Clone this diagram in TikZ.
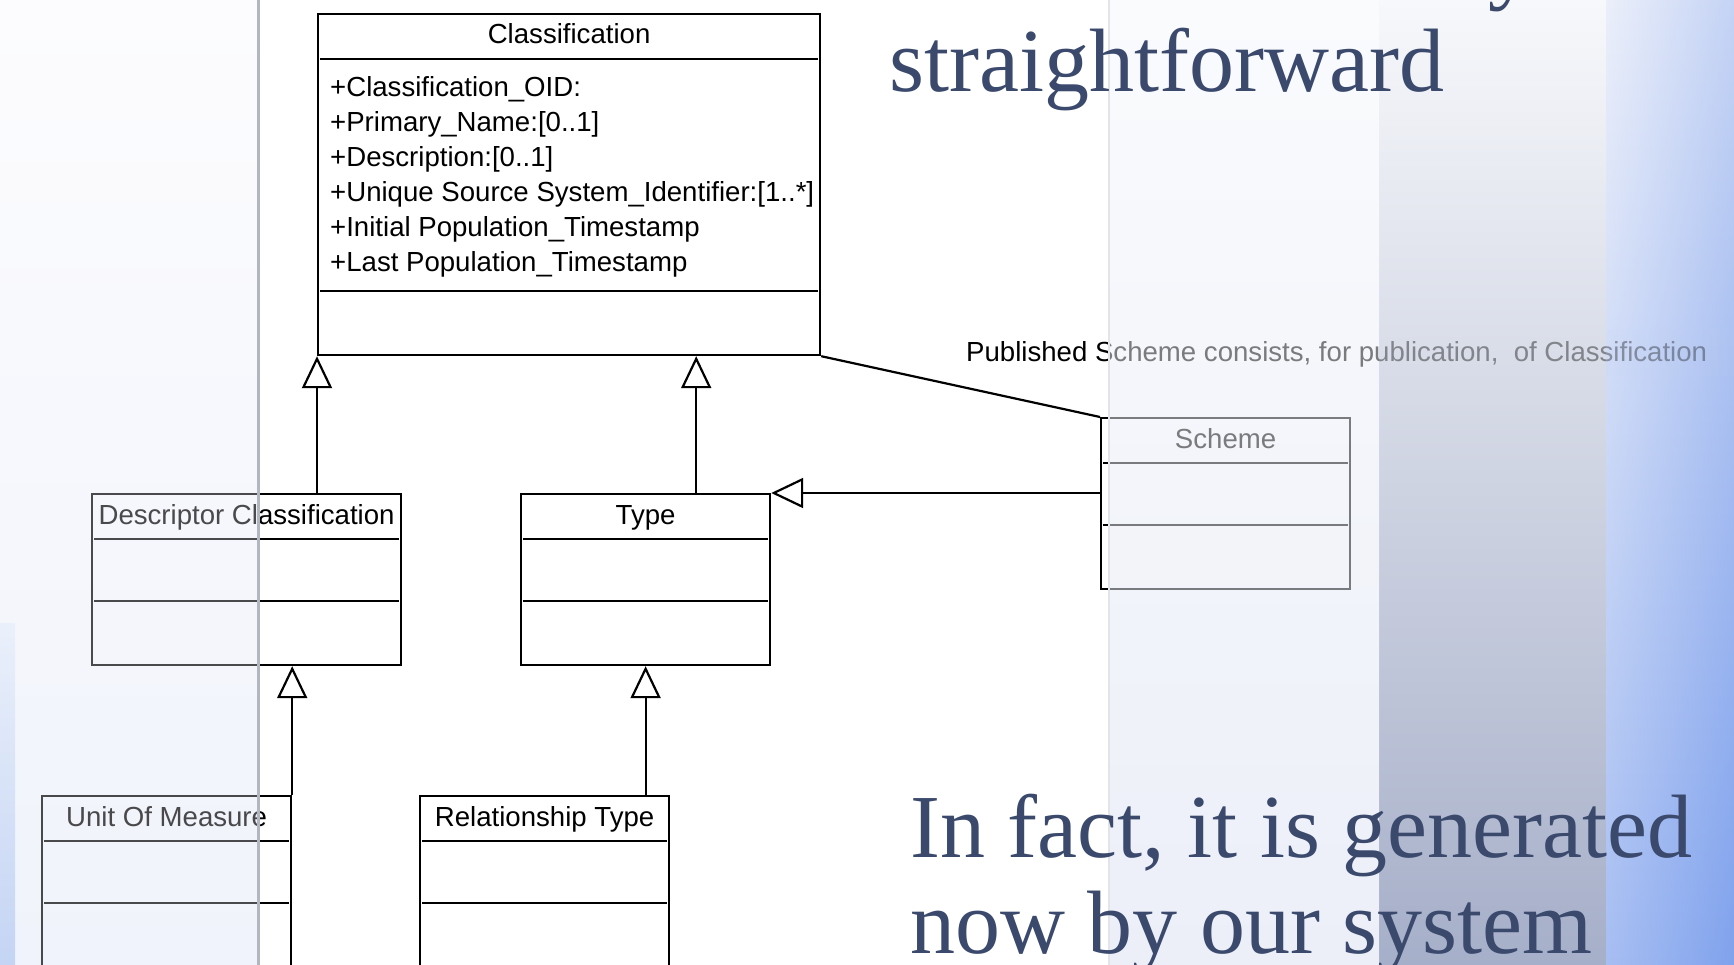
\documentclass[tikz,border=0pt]{standalone}
\usepackage{fontspec}
\setmainfont{Liberation Serif}
\setsansfont{Liberation Sans}
\usetikzlibrary{arrows.meta, calc}

\definecolor{headblue}{HTML}{3A496C}
\definecolor{paneltopA}{HTML}{FCFCFE}
\definecolor{panelbotA}{HTML}{F0F3FB}
\definecolor{edgetopA}{HTML}{EAF0FB}
\definecolor{edgeA}{HTML}{C4D4F4}
\definecolor{paneltopC}{HTML}{FAFBFD}
\definecolor{panelbotC}{HTML}{ECEFF8}
\definecolor{paneltopD}{HTML}{F7F8FB}
\definecolor{panelmidD}{HTML}{D0D3DA}
\definecolor{panelbotD}{HTML}{A6AFC9}
\definecolor{paneltopE}{HTML}{E6EBF9}
\definecolor{panelmidE}{HTML}{BBCDF5}
\definecolor{panelbotE}{HTML}{8EACEF}
\definecolor{panelglowE}{HTML}{4F7FE6}
\definecolor{seamdark}{HTML}{B2B6BE}
\definecolor{seamlight}{HTML}{E2E4E9}

\tikzset{
    umlbox/.style={draw, line width=2.2pt, minimum width=249pt, minimum height=171pt,
        inner sep=0pt, anchor=north west},
    umlname/.style={font=\sffamily\fontsize{27.6}{32}\selectfont, inner sep=0pt,
        text height=20pt, text depth=6pt},
    attr/.style={font=\sffamily\fontsize{27.6}{32}\selectfont, inner sep=0pt, anchor=base west},
    compart/.style={line width=2.2pt},
    gen/.style={line width=2.2pt, -{Triangle[open, length=32pt, width=30pt]}},
    headline/.style={font=\fontsize{90}{96}\selectfont, text=headblue, inner sep=0pt,
        anchor=base west},
    panelA/.style={top color=paneltopA, bottom color=panelbotA},
    panelC/.style={top color=paneltopC, bottom color=panelbotC},
    panelD/.style={top color=paneltopD, middle color=panelmidD, bottom color=panelbotD},
    panelE/.style={top color=paneltopE, middle color=panelmidE, bottom color=panelbotE},
    glowE/.style={left color=white, right color=panelglowE, opacity=.22}
}

\begin{document}
\begin{tikzpicture}[x=1pt, y=-1pt]
    \useasboundingbox (0,0) rectangle (1734,965);
    \fill[white] (0,0) rectangle (1734,965);

    % 1. Backdrop panels
    \shade[panelA] (0,0) rectangle (258,965);
    \shade[panelC] (1109,0) rectangle (1379,965);
    \shade[panelD] (1379,0) rectangle (1606,965);
    \shade[panelE] (1606,0) rectangle (1734,965);
    \shade[glowE] (1606,0) rectangle (1734,965);

    % 2. Class boxes, their names and compartments
    \node[umlbox, minimum width=502pt, minimum height=341pt] (class) at (317,13) {};
    \node[umlbox, minimum width=309pt] (desc) at (91,493) {};
    \node[umlbox] (type) at (520,493) {};
    \node[umlbox] (scheme) at (1100,417) {};
    \node[umlbox] (uom) at (41,795) {};
    \node[umlbox] (rel) at (419,795) {};

    \foreach \cls/\title in {class/Classification, desc/Descriptor Classification,
            type/Type, scheme/Scheme, uom/Unit Of Measure, rel/Relationship Type}
        \node[umlname] (\cls-name) at ($(\cls.north)+(0,24)$) {\title};

    \draw[compart] ($(class.north west)+(3,46)$) -- ($(class.north east)+(-3,46)$);
    \draw[compart] ($(class.north west)+(3,278)$) -- ($(class.north east)+(-3,278)$);
    \foreach \cls in {desc, type, scheme, uom, rel} {
        \draw[compart] ($(\cls.north west)+(3,46)$) -- ($(\cls.north east)+(-3,46)$);
        \draw[compart] ($(\cls.north west)+(3,108)$) -- ($(\cls.north east)+(-3,108)$);
    }

    \foreach \attrtext [count=\i from 0] in {{+Classification\_OID:}, {+Primary\_Name:[0..1]},
            {+Description:[0..1]}, {+Unique Source System\_Identifier:[1..*]},
            {+Initial Population\_Timestamp}, {+Last Population\_Timestamp}}
        \node[attr] (attr\i) at (330, 97+35*\i) {\attrtext};

    % 3. Generalisations and the association
    \draw[gen] (desc.north -| class.south west) -- (class.south west);
    \coordinate (typeUp) at ($(type.north east)+(-75,0)$);
    \draw[gen] (typeUp) -- (typeUp |- class.south);
    \draw[gen] (scheme.west |- type.north east) -- (type.north east);
    \draw[gen] (uom.north east) -- (uom.north east |- desc.south);
    \draw[gen] (type.south |- rel.north) -- (type.south);
    \draw[compart] (class.south east) -- (scheme.north west);
    \node[attr] (assoc-label) at (966,361) {Published Scheme consists, for publication,~ of Classification};

    % 4. Wash out whatever lies on the outer panels
    \shade[panelA, opacity=.3] (0,0) rectangle (257,965);
    \shade[panelC, opacity=.5] (1110,0) rectangle (1379,965);
    \begin{scope}
        \clip (1379,330) rectangle (1734,375);
        \shade[panelD, opacity=.6] (1379,0) rectangle (1606,965);
        \shade[panelE, opacity=.6] (1606,0) rectangle (1734,965);
        \shade[glowE, opacity=.13] (1606,0) rectangle (1734,965);
    \end{scope}

    % 5. Seams between the panels
    \shade[top color=edgetopA, bottom color=edgeA] (0,623) rectangle (15,965);
    \draw[seamdark, line width=3pt] (258,0) -- (258,965);
    \draw[seamlight, line width=1.5pt] (1109,0) -- (1109,965);

    % 6. Slide text
    \node[headline] (tail-y) at (1488,-7) {y};
    \node[headline] (head-1) at (889,92) {straightforward};
    \node[headline] (head-2) at (910,857) {In fact, it is generated};
    \node[headline] (head-3) at (910,953) {now by our system};
\end{tikzpicture}
\end{document}
